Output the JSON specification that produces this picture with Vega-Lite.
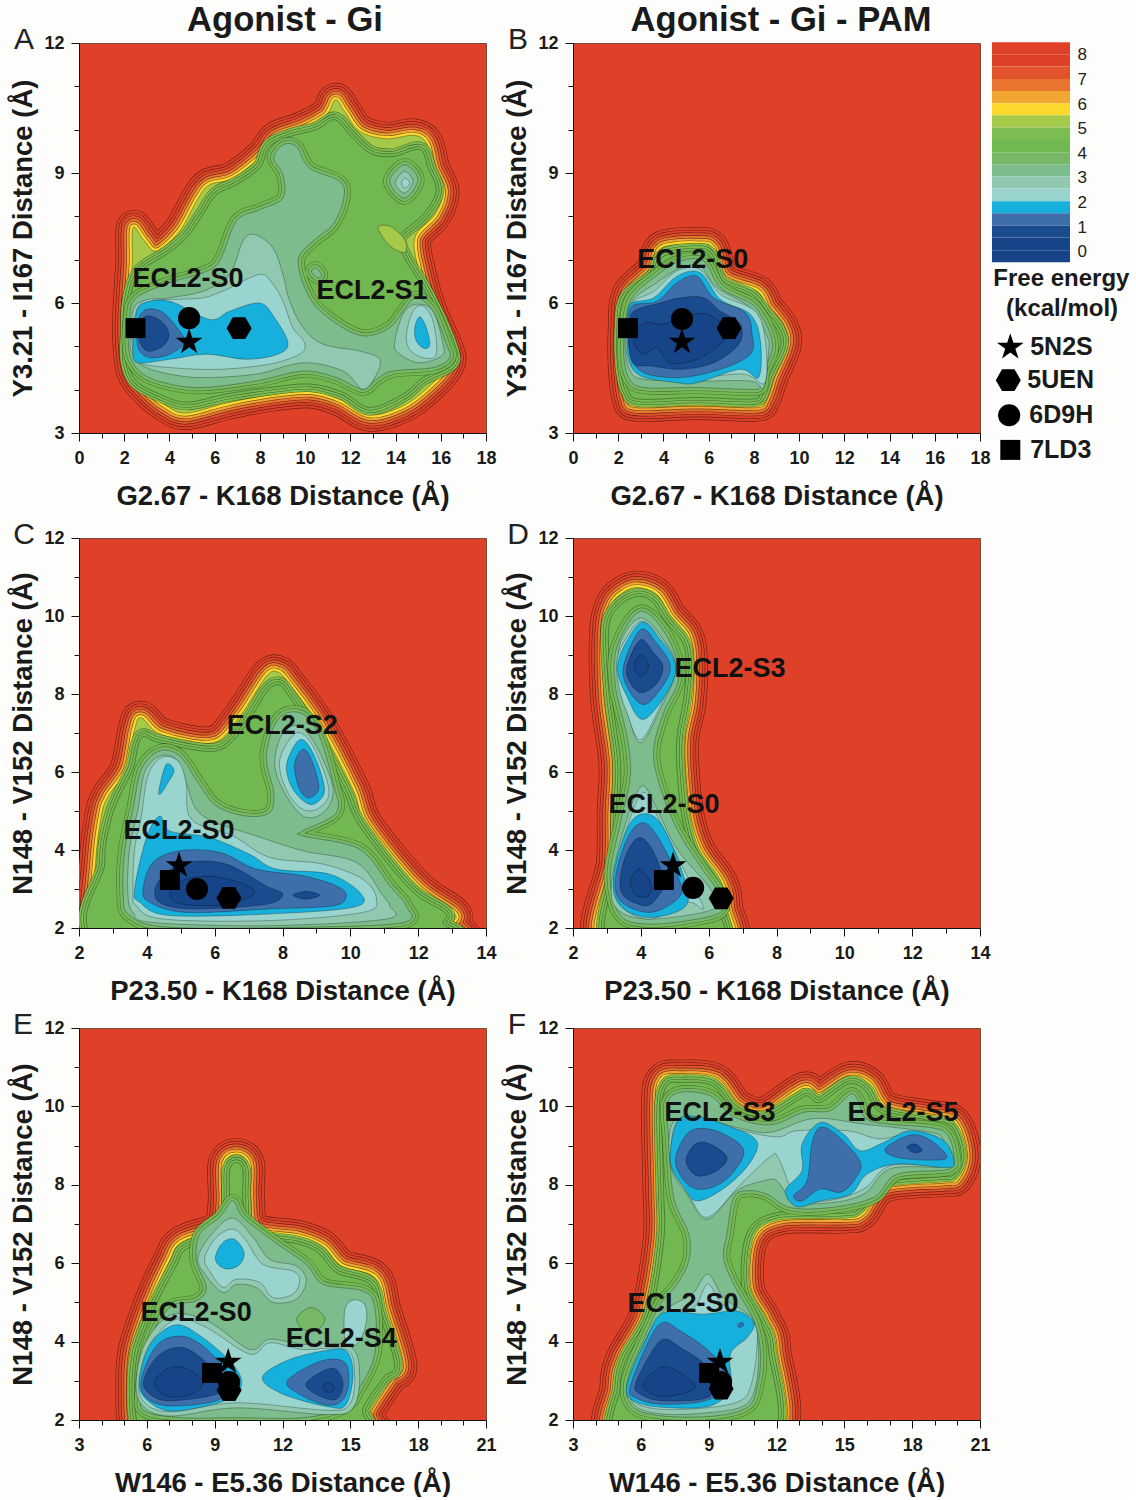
{"$schema":"https://vega.github.io/schema/vega-lite/v6.json","background":"#fdfdfb","padding":{"left":9,"top":2,"right":0,"bottom":0},
"config":{"font":"Liberation Sans","view":{"fill":"#de4128","stroke":"#7a4a3c"},
"axis":{"grid":false,"labelFont":"Liberation Sans","labelFontSize":18,"labelFontWeight":"bold","labelColor":"#1a1a1a","titleFont":"Liberation Sans","titleFontSize":27.5,"titleFontWeight":"bold","titleColor":"#1a1a1a","tickColor":"#111","domainColor":"#111","labelOverlap":false,"labelFlush":false},
"axisX":{"titlePadding":15,"labelPadding":8},"axisY":{"titlePadding":6,"labelPadding":7},
"line":{"interpolate":"cardinal-closed","strokeJoin":"round"},
"range":{"symbol":["M0,-1L.225,-.309L.951,-.309L.363,.118L.588,.809L0,.382L-.588,.809L-.363,.118L-.951,-.309L-.225,-.309Z","M-1,0L-.5,-.87L.5,-.87L1,0L.5,.87L-.5,.87Z","circle","square"]},
"style":{
"o6":{"strokeOpacity":0.5,"strokeWidth":33.7},"c6":{"strokeWidth":32.4},
"o5":{"strokeOpacity":0.5,"strokeWidth":28.3},"c5":{"strokeWidth":27},
"o4":{"strokeOpacity":0.5,"strokeWidth":22.9},"c4":{"strokeWidth":21.6},
"o3":{"strokeOpacity":0.5,"strokeWidth":17.5},"c3":{"strokeWidth":16.2},
"o2":{"strokeOpacity":0.5,"strokeWidth":12.1},"c2":{"strokeWidth":10.8},
"o1":{"strokeOpacity":0.5,"strokeWidth":6.7},"c1":{"strokeWidth":5.4},
"sf":{"strokeOpacity":0.45,"strokeWidth":0.7},
"o9":{"strokeOpacity":0.45,"strokeWidth":16.2},"c9":{"strokeWidth":15},
"o8":{"strokeOpacity":0.45,"strokeWidth":11.2},"c8":{"strokeWidth":10},
"o7":{"strokeOpacity":0.45,"strokeWidth":6.2},"c7":{"strokeWidth":5},
"tf":{"strokeOpacity":0.45,"strokeWidth":0.7},
"ua":{"strokeOpacity":0.35,"strokeWidth":13.2},"ub":{"strokeWidth":12},
"uc":{"strokeOpacity":0.35,"strokeWidth":7.2},"ud":{"strokeWidth":6},
"in":{"strokeOpacity":0.4,"strokeWidth":0.7}}},
"datasets":{
"AS":[{"x":2.21,"y":5.28},{"x":2.27,"y":6.2},{"x":2.36,"y":6.97},{"x":2.35,"y":7.58},{"x":2.46,"y":7.75},{"x":2.9,"y":7.43},{"x":3.45,"y":7.2},{"x":4.45,"y":7.66},{"x":5.27,"y":8.42},{"x":5.78,"y":8.73},{"x":6.81,"y":8.88},{"x":8.14,"y":9.42},{"x":8.73,"y":9.81},{"x":9.91,"y":10.04},{"x":10.94,"y":10.34},{"x":11.34,"y":10.69},{"x":11.75,"y":10.42},{"x":12.42,"y":9.96},{"x":13.6,"y":9.79},{"x":14.78,"y":9.87},{"x":15.37,"y":9.69},{"x":15.66,"y":9.11},{"x":16.08,"y":8.58},{"x":15.74,"y":8.04},{"x":14.85,"y":7.5},{"x":15.07,"y":6.66},{"x":15.59,"y":5.74},{"x":16.25,"y":4.97},{"x":16.33,"y":4.59},{"x":15.52,"y":4.09},{"x":14.34,"y":3.63},{"x":12.86,"y":3.42},{"x":11.53,"y":3.78},{"x":10.21,"y":3.96},{"x":8.44,"y":3.88},{"x":6.52,"y":3.69},{"x":4.75,"y":3.46},{"x":3.86,"y":3.63},{"x":3.05,"y":3.97},{"x":2.39,"y":4.43}],
"AT":[{"x":2.17,"y":5.28},{"x":2.24,"y":6.05},{"x":2.68,"y":6.7},{"x":3.86,"y":7.12},{"x":4.75,"y":7.5},{"x":5.48,"y":8.04},{"x":6.07,"y":8.5},{"x":6.96,"y":8.73},{"x":7.99,"y":9.11},{"x":8.43,"y":9.61},{"x":9.32,"y":9.84},{"x":10.5,"y":10.0},{"x":11.31,"y":10.23},{"x":11.97,"y":9.88},{"x":12.86,"y":9.46},{"x":13.89,"y":9.38},{"x":15.07,"y":9.54},{"x":15.44,"y":9.11},{"x":15.8,"y":8.58},{"x":15.21,"y":8.04},{"x":14.33,"y":7.65},{"x":14.11,"y":7.42},{"x":14.48,"y":6.96},{"x":15.21,"y":6.35},{"x":15.88,"y":5.66},{"x":16.47,"y":4.89},{"x":16.39,"y":4.59},{"x":15.21,"y":4.28},{"x":14.33,"y":3.9},{"x":12.86,"y":3.59},{"x":11.68,"y":3.94},{"x":10.2,"y":4.13},{"x":8.43,"y":4.05},{"x":6.52,"y":3.9},{"x":4.75,"y":3.71},{"x":3.57,"y":3.9},{"x":2.54,"y":4.2},{"x":2.17,"y":4.66}],
"AI":[{"l":9,"x":13.23,"y":7.73},{"l":9,"x":13.75,"y":7.77},{"l":9,"x":14.41,"y":7.46},{"l":9,"x":14.41,"y":7.17},{"l":9,"x":13.75,"y":7.32},
{"l":2,"x":2.24,"y":5.66},{"l":2,"x":2.54,"y":6.12},{"l":2,"x":4.01,"y":6.47},{"l":2,"x":5.48,"y":6.7},{"l":2,"x":6.22,"y":6.97},{"l":2,"x":6.96,"y":7.89},{"l":2,"x":7.99,"y":8.15},{"l":2,"x":9.02,"y":8.42},{"l":2,"x":9.02,"y":8.96},{"l":2,"x":8.61,"y":9.34},{"l":2,"x":9.02,"y":9.65},{"l":2,"x":9.61,"y":9.61},{"l":2,"x":10.2,"y":9.11},{"l":2,"x":11.53,"y":8.81},{"l":2,"x":11.71,"y":8.42},{"l":2,"x":11.23,"y":7.81},{"l":2,"x":10.35,"y":7.43},{"l":2,"x":9.69,"y":6.97},{"l":2,"x":10.2,"y":6.12},{"l":2,"x":11.23,"y":5.58},{"l":2,"x":12.56,"y":5.24},{"l":2,"x":13.74,"y":5.43},{"l":2,"x":14.33,"y":5.81},{"l":2,"x":14.92,"y":6.12},{"l":2,"x":15.66,"y":5.81},{"l":2,"x":16.25,"y":5.05},{"l":2,"x":16.39,"y":4.74},{"l":2,"x":15.66,"y":4.51},{"l":2,"x":13.89,"y":4.43},{"l":2,"x":13.15,"y":4.24},{"l":2,"x":12.53,"y":4.01},{"l":2,"x":11.38,"y":4.28},{"l":2,"x":9.91,"y":4.43},{"l":2,"x":7.84,"y":4.2},{"l":2,"x":5.48,"y":4.05},{"l":2,"x":4.01,"y":4.13},{"l":2,"x":2.83,"y":4.36},{"l":2,"x":2.24,"y":4.82},
{"l":2,"r":1,"x":10.28,"y":6.72},{"l":2,"r":1,"x":10.47,"y":6.81},{"l":2,"r":1,"x":10.72,"y":6.66},{"l":2,"r":1,"x":10.57,"y":6.58},
{"l":2,"r":3,"x":13.74,"y":8.81},{"l":2,"r":3,"x":14.4,"y":9.19},{"l":2,"r":3,"x":14.99,"y":8.85},{"l":2,"r":3,"x":14.4,"y":8.42},
{"l":3,"r":3,"x":13.99,"y":8.77},{"l":3,"r":3,"x":14.4,"y":9.04},{"l":3,"r":3,"x":14.77,"y":8.81},{"l":3,"r":3,"x":14.4,"y":8.54},
{"l":4,"r":3,"x":14.26,"y":8.77},{"l":4,"r":3,"x":14.43,"y":8.88},{"l":4,"r":3,"x":14.63,"y":8.77},{"l":4,"r":3,"x":14.43,"y":8.65},
{"l":3,"x":2.31,"y":5.28},{"l":3,"x":2.54,"y":5.97},{"l":3,"x":4.01,"y":6.12},{"l":3,"x":5.48,"y":6.27},{"l":3,"x":6.66,"y":6.66},{"l":3,"x":7.25,"y":7.43},{"l":3,"x":7.77,"y":7.58},{"l":3,"x":8.58,"y":7.27},{"l":3,"x":9.02,"y":6.66},{"l":3,"x":9.32,"y":6.04},{"l":3,"x":9.91,"y":5.43},{"l":3,"x":10.79,"y":5.05},{"l":3,"x":12.41,"y":4.89},{"l":3,"x":13.3,"y":4.7},{"l":3,"x":13.08,"y":4.28},{"l":3,"x":12.53,"y":4.01},{"l":3,"x":11.68,"y":4.43},{"l":3,"x":9.91,"y":4.62},{"l":3,"x":7.84,"y":4.36},{"l":3,"x":5.48,"y":4.28},{"l":3,"x":4.01,"y":4.36},{"l":3,"x":2.83,"y":4.55},{"l":3,"x":2.31,"y":4.89},
{"l":3,"r":2,"x":13.96,"y":5.08},{"l":3,"r":2,"x":14.33,"y":5.74},{"l":3,"r":2,"x":14.92,"y":5.97},{"l":3,"r":2,"x":15.66,"y":5.81},{"l":3,"r":2,"x":16.1,"y":5.05},{"l":3,"r":2,"x":16.03,"y":4.78},{"l":3,"r":2,"x":15.07,"y":4.62},{"l":3,"r":2,"x":14.18,"y":4.82},
{"l":4,"x":2.39,"y":5.51},{"l":4,"x":2.83,"y":6.04},{"l":4,"x":4.01,"y":6.08},{"l":4,"x":5.48,"y":6.12},{"l":4,"x":6.52,"y":6.31},{"l":4,"x":7.99,"y":6.66},{"l":4,"x":8.58,"y":6.43},{"l":4,"x":9.02,"y":6.04},{"l":4,"x":9.46,"y":5.43},{"l":4,"x":9.98,"y":5.08},{"l":4,"x":9.76,"y":4.82},{"l":4,"x":8.43,"y":4.59},{"l":4,"x":6.22,"y":4.47},{"l":4,"x":4.01,"y":4.51},{"l":4,"x":2.68,"y":4.62},{"l":4,"x":2.39,"y":4.89},
{"l":4,"r":2,"x":14.48,"y":5.28},{"l":4,"r":2,"x":14.77,"y":5.81},{"l":4,"r":2,"x":15.21,"y":5.93},{"l":4,"r":2,"x":15.66,"y":5.58},{"l":4,"r":2,"x":15.8,"y":4.82},{"l":4,"r":2,"x":15.21,"y":4.74},{"l":4,"r":2,"x":14.62,"y":4.93},
{"l":5,"x":2.46,"y":5.51},{"l":5,"x":2.76,"y":5.97},{"l":5,"x":4.01,"y":6.04},{"l":5,"x":5.78,"y":5.62},{"l":5,"x":6.66,"y":5.81},{"l":5,"x":7.99,"y":6.0},{"l":5,"x":8.65,"y":5.66},{"l":5,"x":9.24,"y":5.08},{"l":5,"x":8.8,"y":4.82},{"l":5,"x":7.4,"y":4.7},{"l":5,"x":5.63,"y":4.82},{"l":5,"x":4.01,"y":4.7},{"l":5,"x":2.61,"y":4.62},{"l":5,"x":2.39,"y":4.89},
{"l":5,"r":2,"x":14.85,"y":5.43},{"l":5,"r":2,"x":15.07,"y":5.68},{"l":5,"r":2,"x":15.36,"y":5.43},{"l":5,"r":2,"x":15.51,"y":5.05},{"l":5,"r":2,"x":15.29,"y":4.95},{"l":5,"r":2,"x":14.92,"y":5.12},
{"l":6,"x":2.61,"y":5.58},{"l":6,"x":2.98,"y":5.85},{"l":6,"x":3.72,"y":5.78},{"l":6,"x":4.45,"y":5.35},{"l":6,"x":4.67,"y":5.08},{"l":6,"x":4.01,"y":4.82},{"l":6,"x":3.13,"y":4.74},{"l":6,"x":2.61,"y":4.97},
{"l":7,"x":2.61,"y":5.51},{"l":7,"x":3.05,"y":5.7},{"l":7,"x":3.64,"y":5.58},{"l":7,"x":3.98,"y":5.28},{"l":7,"x":3.72,"y":5.01},{"l":7,"x":3.05,"y":4.89},{"l":7,"x":2.68,"y":5.12}],
"BS":[{"x":2.29,"y":5.43},{"x":2.46,"y":6.2},{"x":3.49,"y":6.74},{"x":3.79,"y":7.2},{"x":4.3,"y":7.33},{"x":5.48,"y":7.36},{"x":6.15,"y":7.27},{"x":6.66,"y":6.58},{"x":8.14,"y":6.27},{"x":8.58,"y":5.89},{"x":9.24,"y":5.43},{"x":9.35,"y":5.01},{"x":8.8,"y":4.32},{"x":8.43,"y":3.78},{"x":7.99,"y":3.65},{"x":5.48,"y":3.69},{"x":2.9,"y":3.65},{"x":2.46,"y":3.82},{"x":2.29,"y":4.51}],
"BT":[{"x":2.17,"y":5.43},{"x":2.39,"y":6.12},{"x":3.57,"y":6.62},{"x":4.01,"y":7.08},{"x":5.48,"y":7.2},{"x":6.07,"y":7.08},{"x":6.52,"y":6.47},{"x":7.84,"y":6.16},{"x":8.43,"y":5.78},{"x":9.02,"y":5.39},{"x":9.17,"y":5.01},{"x":8.58,"y":4.36},{"x":8.29,"y":3.9},{"x":7.84,"y":3.78},{"x":5.48,"y":3.82},{"x":2.98,"y":3.78},{"x":2.46,"y":3.97},{"x":2.21,"y":4.51}],
"BI":[{"l":2,"x":2.31,"y":5.43},{"l":2,"x":2.61,"y":6.12},{"l":2,"x":3.86,"y":6.7},{"l":2,"x":4.75,"y":6.97},{"l":2,"x":5.78,"y":6.97},{"l":2,"x":6.52,"y":6.35},{"l":2,"x":7.84,"y":6.0},{"l":2,"x":8.29,"y":5.74},{"l":2,"x":8.73,"y":5.28},{"l":2,"x":8.8,"y":4.89},{"l":2,"x":8.43,"y":4.43},{"l":2,"x":8.29,"y":4.05},{"l":2,"x":7.55,"y":4.01},{"l":2,"x":5.48,"y":4.05},{"l":2,"x":3.13,"y":4.05},{"l":2,"x":2.46,"y":4.28},{"l":2,"x":2.24,"y":4.82},
{"l":3,"x":2.36,"y":5.43},{"l":3,"x":2.61,"y":6.04},{"l":3,"x":3.71,"y":6.47},{"l":3,"x":4.75,"y":6.81},{"l":3,"x":5.63,"y":6.85},{"l":3,"x":6.37,"y":6.35},{"l":3,"x":7.84,"y":5.89},{"l":3,"x":8.58,"y":5.24},{"l":3,"x":8.65,"y":4.89},{"l":3,"x":8.43,"y":4.05},{"l":3,"x":7.84,"y":4.2},{"l":3,"x":5.48,"y":4.2},{"l":3,"x":3.13,"y":4.24},{"l":3,"x":2.54,"y":4.43},{"l":3,"x":2.31,"y":4.89},
{"l":4,"x":2.36,"y":5.43},{"l":4,"x":2.61,"y":6.0},{"l":4,"x":3.57,"y":6.27},{"l":4,"x":4.6,"y":6.74},{"l":4,"x":5.63,"y":6.77},{"l":4,"x":6.52,"y":6.2},{"l":4,"x":8.06,"y":5.81},{"l":4,"x":8.51,"y":5.12},{"l":4,"x":8.48,"y":4.16},{"l":4,"x":7.55,"y":4.36},{"l":4,"x":5.48,"y":4.28},{"l":4,"x":3.27,"y":4.32},{"l":4,"x":2.61,"y":4.51},{"l":4,"x":2.36,"y":4.89},
{"l":5,"x":2.39,"y":5.43},{"l":5,"x":2.54,"y":5.97},{"l":5,"x":3.57,"y":6.12},{"l":5,"x":4.6,"y":6.62},{"l":5,"x":5.63,"y":6.7},{"l":5,"x":6.52,"y":6.08},{"l":5,"x":7.84,"y":5.74},{"l":5,"x":8.29,"y":5.12},{"l":5,"x":8.21,"y":4.28},{"l":5,"x":7.4,"y":4.47},{"l":5,"x":5.48,"y":4.16},{"l":5,"x":4.6,"y":4.16},{"l":5,"x":2.98,"y":4.32},{"l":5,"x":2.46,"y":4.74},
{"l":6,"x":2.46,"y":5.43},{"l":6,"x":2.61,"y":5.93},{"l":6,"x":3.71,"y":6.04},{"l":6,"x":4.6,"y":6.47},{"l":6,"x":5.48,"y":6.62},{"l":6,"x":6.22,"y":6.12},{"l":6,"x":7.62,"y":5.78},{"l":6,"x":7.92,"y":5.28},{"l":6,"x":7.84,"y":4.82},{"l":6,"x":6.52,"y":4.47},{"l":6,"x":4.75,"y":4.28},{"l":6,"x":3.13,"y":4.39},{"l":6,"x":2.54,"y":4.82},
{"l":7,"x":2.5,"y":5.43},{"l":7,"x":2.68,"y":5.81},{"l":7,"x":3.86,"y":6.0},{"l":7,"x":4.75,"y":6.12},{"l":7,"x":5.78,"y":6.12},{"l":7,"x":6.52,"y":5.81},{"l":7,"x":7.4,"y":5.51},{"l":7,"x":7.33,"y":5.05},{"l":7,"x":6.22,"y":4.62},{"l":7,"x":4.75,"y":4.47},{"l":7,"x":3.42,"y":4.55},{"l":7,"x":2.68,"y":4.59},{"l":7,"x":2.46,"y":5.05},
{"l":8,"x":3.13,"y":5.54},{"l":8,"x":4.01,"y":5.51},{"l":8,"x":4.89,"y":5.7},{"l":8,"x":5.93,"y":5.74},{"l":8,"x":6.74,"y":5.43},{"l":8,"x":6.66,"y":5.12},{"l":8,"x":5.48,"y":4.7},{"l":8,"x":4.3,"y":4.62},{"l":8,"x":3.71,"y":4.97},{"l":8,"x":3.13,"y":4.82},{"l":8,"x":2.68,"y":5.12}],
"CS":[{"x":2.49,"y":3.68},{"x":2.66,"y":4.87},{"x":2.86,"y":5.38},{"x":3.4,"y":6.07},{"x":3.64,"y":7.09},{"x":3.84,"y":7.39},{"x":4.43,"y":6.96},{"x":5.95,"y":6.75},{"x":6.74,"y":7.43},{"x":7.52,"y":8.45},{"x":7.87,"y":8.56},{"x":8.21,"y":8.24},{"x":9.1,"y":7.17},{"x":10.08,"y":5.55},{"x":10.47,"y":4.66},{"x":11.95,"y":3.08},{"x":13.03,"y":2.4},{"x":13.01,"y":2.14},{"x":12.54,"y":1.55},{"x":3.69,"y":1.55},{"x":2.41,"y":1.55}],
"CT":[{"x":2.76,"y":3.68},{"x":2.95,"y":4.79},{"x":3.2,"y":5.38},{"x":3.59,"y":6.07},{"x":3.84,"y":6.88},{"x":4.38,"y":6.75},{"x":6.05,"y":6.54},{"x":6.89,"y":7.17},{"x":7.52,"y":8.03},{"x":7.87,"y":8.24},{"x":8.16,"y":7.98},{"x":8.9,"y":7.0},{"x":9.78,"y":5.55},{"x":10.27,"y":4.62},{"x":11.75,"y":3.0},{"x":12.78,"y":2.4},{"x":12.73,"y":2.14},{"x":12.54,"y":1.55},{"x":3.0,"y":1.55}],
"CI":[{"l":2,"x":3.3,"y":2.91},{"l":2,"x":3.35,"y":4.02},{"l":2,"x":3.59,"y":5.04},{"l":2,"x":3.84,"y":6.07},{"l":2,"x":4.38,"y":6.54},{"l":2,"x":4.97,"y":6.41},{"l":2,"x":5.51,"y":5.73},{"l":2,"x":6.05,"y":5.13},{"l":2,"x":6.93,"y":4.87},{"l":2,"x":7.62,"y":4.96},{"l":2,"x":7.74,"y":5.47},{"l":2,"x":7.52,"y":6.41},{"l":2,"x":7.87,"y":7.35},{"l":2,"x":8.51,"y":7.52},{"l":2,"x":9.05,"y":7.0},{"l":2,"x":9.49,"y":5.73},{"l":2,"x":9.59,"y":4.96},{"l":2,"x":8.6,"y":4.49},{"l":2,"x":8.6,"y":4.36},{"l":2,"x":10.27,"y":4.02},{"l":2,"x":11.16,"y":3.08},{"l":2,"x":11.65,"y":2.57},{"l":2,"x":11.55,"y":2.14},{"l":2,"x":8.6,"y":2.02},{"l":2,"x":4.67,"y":2.02},{"l":2,"x":3.49,"y":2.32},
{"l":3,"x":3.44,"y":2.91},{"l":3,"x":3.49,"y":4.02},{"l":3,"x":3.74,"y":5.04},{"l":3,"x":3.94,"y":6.0},{"l":3,"x":4.38,"y":6.41},{"l":3,"x":4.87,"y":6.32},{"l":3,"x":5.16,"y":5.73},{"l":3,"x":5.46,"y":5.04},{"l":3,"x":6.05,"y":4.7},{"l":3,"x":7.23,"y":4.36},{"l":3,"x":8.6,"y":3.98},{"l":3,"x":10.18,"y":3.68},{"l":3,"x":10.96,"y":2.83},{"l":3,"x":11.16,"y":2.57},{"l":3,"x":11.06,"y":2.23},{"l":3,"x":7.62,"y":2.06},{"l":3,"x":4.18,"y":2.14},{"l":3,"x":3.59,"y":2.4},
{"l":3,"r":2,"x":7.77,"y":6.24},{"l":3,"r":2,"x":8.01,"y":7.0},{"l":3,"r":2,"x":8.51,"y":7.17},{"l":3,"r":2,"x":9.05,"y":6.58},{"l":3,"r":2,"x":9.49,"y":5.55},{"l":3,"r":2,"x":9.2,"y":4.96},{"l":3,"r":2,"x":8.6,"y":4.87},{"l":3,"r":2,"x":8.01,"y":5.55},
{"l":4,"x":3.59,"y":2.91},{"l":4,"x":3.64,"y":4.02},{"l":4,"x":3.84,"y":4.87},{"l":4,"x":4.03,"y":5.9},{"l":4,"x":4.43,"y":6.37},{"l":4,"x":4.92,"y":6.28},{"l":4,"x":5.16,"y":5.73},{"l":4,"x":5.31,"y":4.79},{"l":4,"x":6.54,"y":4.36},{"l":4,"x":7.62,"y":3.81},{"l":4,"x":9.19,"y":3.64},{"l":4,"x":10.37,"y":3.25},{"l":4,"x":10.77,"y":2.74},{"l":4,"x":10.37,"y":2.4},{"l":4,"x":7.62,"y":2.19},{"l":4,"x":4.48,"y":2.23},{"l":4,"x":3.69,"y":2.57},
{"l":4,"r":2,"x":7.92,"y":6.32},{"l":4,"r":2,"x":8.41,"y":7.0},{"l":4,"r":2,"x":8.9,"y":6.66},{"l":4,"r":2,"x":9.37,"y":5.55},{"l":4,"r":2,"x":9.1,"y":5.09},{"l":4,"r":2,"x":8.6,"y":5.04},{"l":4,"r":2,"x":8.11,"y":5.55},
{"l":5,"x":3.64,"y":3.0},{"l":5,"x":3.99,"y":4.32},{"l":5,"x":4.38,"y":4.87},{"l":5,"x":4.67,"y":4.49},{"l":5,"x":5.85,"y":4.32},{"l":5,"x":7.03,"y":3.89},{"l":5,"x":7.82,"y":3.51},{"l":5,"x":9.39,"y":3.38},{"l":5,"x":10.32,"y":2.87},{"l":5,"x":10.08,"y":2.53},{"l":5,"x":7.62,"y":2.36},{"l":5,"x":4.67,"y":2.32},{"l":5,"x":3.79,"y":2.66},
{"l":5,"r":1,"x":4.36,"y":5.55},{"l":5,"r":1,"x":4.57,"y":6.19},{"l":5,"r":1,"x":4.8,"y":6.03},{"l":5,"r":1,"x":4.57,"y":5.65},{"l":5,"r":1,"x":4.39,"y":5.43},
{"l":5,"r":2,"x":8.13,"y":6.24},{"l":5,"r":2,"x":8.51,"y":6.83},{"l":5,"r":2,"x":8.9,"y":6.49},{"l":5,"r":2,"x":9.24,"y":5.55},{"l":5,"r":2,"x":8.9,"y":5.17},{"l":5,"r":2,"x":8.51,"y":5.34},{"l":5,"r":2,"x":8.21,"y":5.73},
{"l":6,"r":2,"x":8.36,"y":6.24},{"l":6,"r":2,"x":8.6,"y":6.58},{"l":6,"r":2,"x":8.85,"y":6.32},{"l":6,"r":2,"x":9.07,"y":5.6},{"l":6,"r":2,"x":8.8,"y":5.34},{"l":6,"r":2,"x":8.56,"y":5.47},{"l":6,"r":2,"x":8.41,"y":5.81},
{"l":6,"x":3.89,"y":3.0},{"l":6,"x":4.18,"y":3.68},{"l":6,"x":4.97,"y":3.98},{"l":6,"x":6.15,"y":3.94},{"l":6,"x":7.23,"y":3.51},{"l":6,"x":8.6,"y":3.34},{"l":6,"x":9.59,"y":3.08},{"l":6,"x":9.88,"y":2.83},{"l":6,"x":9.49,"y":2.57},{"l":6,"x":7.62,"y":2.49},{"l":6,"x":5.16,"y":2.4},{"l":6,"x":4.08,"y":2.66},
{"l":7,"x":4.23,"y":2.91},{"l":7,"x":4.48,"y":3.34},{"l":7,"x":5.16,"y":3.68},{"l":7,"x":6.34,"y":3.64},{"l":7,"x":7.52,"y":3.08},{"l":7,"x":8.01,"y":2.87},{"l":7,"x":7.52,"y":2.61},{"l":7,"x":5.46,"y":2.49},{"l":7,"x":4.48,"y":2.61},
{"l":7,"r":1,"x":8.31,"y":2.84},{"l":7,"r":1,"x":8.7,"y":2.94},{"l":7,"r":1,"x":9.1,"y":2.84},{"l":7,"r":1,"x":8.7,"y":2.74},
{"l":8,"x":4.67,"y":2.87},{"l":8,"x":5.16,"y":3.25},{"l":8,"x":6.15,"y":3.3},{"l":8,"x":7.18,"y":2.95},{"l":8,"x":6.44,"y":2.61},{"l":8,"x":5.06,"y":2.61}],
"DS":[{"x":2.98,"y":9.65},{"x":3.15,"y":10.29},{"x":3.44,"y":10.58},{"x":3.89,"y":10.73},{"x":4.48,"y":10.54},{"x":4.87,"y":9.99},{"x":5.36,"y":9.48},{"x":5.48,"y":8.79},{"x":5.43,"y":7.77},{"x":5.23,"y":6.92},{"x":5.23,"y":6.07},{"x":5.38,"y":4.87},{"x":5.71,"y":3.98},{"x":6.36,"y":3.17},{"x":6.51,"y":2.53},{"x":6.44,"y":1.55},{"x":2.9,"y":1.55},{"x":3.18,"y":3.68},{"x":3.2,"y":4.96},{"x":3.25,"y":6.24},{"x":3.0,"y":7.94}],
"DT":[{"x":3.05,"y":9.65},{"x":3.35,"y":10.24},{"x":3.89,"y":10.5},{"x":4.33,"y":10.37},{"x":4.72,"y":9.86},{"x":5.21,"y":9.35},{"x":5.34,"y":8.79},{"x":5.26,"y":7.86},{"x":5.07,"y":6.92},{"x":5.07,"y":6.07},{"x":5.21,"y":4.87},{"x":5.51,"y":3.94},{"x":6.15,"y":3.13},{"x":6.29,"y":2.53},{"x":6.25,"y":1.55},{"x":3.1,"y":1.55},{"x":3.3,"y":3.68},{"x":3.35,"y":4.96},{"x":3.4,"y":6.24},{"x":3.15,"y":7.94}],
"DI":[{"l":2,"x":3.3,"y":9.22},{"l":2,"x":3.99,"y":10.12},{"l":2,"x":4.77,"y":9.48},{"l":2,"x":5.12,"y":8.45},{"l":2,"x":4.67,"y":7.52},{"l":2,"x":4.38,"y":6.58},{"l":2,"x":4.53,"y":5.73},{"l":2,"x":5.07,"y":4.53},{"l":2,"x":5.75,"y":3.59},{"l":2,"x":6.29,"y":2.91},{"l":2,"x":6.39,"y":2.44},{"l":2,"x":5.66,"y":2.23},{"l":2,"x":4.28,"y":2.1},{"l":2,"x":3.4,"y":2.32},{"l":2,"x":3.1,"y":3.34},{"l":2,"x":3.4,"y":4.7},{"l":2,"x":3.69,"y":5.9},{"l":2,"x":3.59,"y":6.92},{"l":2,"x":3.25,"y":8.2},
{"l":3,"x":3.4,"y":9.31},{"l":3,"x":3.99,"y":9.95},{"l":3,"x":4.67,"y":9.39},{"l":3,"x":5.02,"y":8.62},{"l":3,"x":4.53,"y":7.52},{"l":3,"x":3.99,"y":6.75},{"l":3,"x":3.64,"y":7.43},{"l":3,"x":3.4,"y":8.45},
{"l":3,"r":2,"x":4.03,"y":5.64},{"l":3,"r":2,"x":4.43,"y":5.13},{"l":3,"r":2,"x":5.07,"y":4.02},{"l":3,"r":2,"x":6.05,"y":3.0},{"l":3,"r":2,"x":6.15,"y":2.49},{"l":3,"r":2,"x":4.28,"y":2.23},{"l":3,"r":2,"x":3.3,"y":2.49},{"l":3,"r":2,"x":3.15,"y":3.25},{"l":3,"r":2,"x":3.59,"y":4.79},
{"l":4,"x":3.35,"y":9.05},{"l":4,"x":3.99,"y":9.86},{"l":4,"x":4.61,"y":9.39},{"l":4,"x":5.02,"y":8.71},{"l":4,"x":4.57,"y":7.69},{"l":4,"x":3.99,"y":6.83},{"l":4,"x":3.59,"y":7.52},{"l":4,"x":3.33,"y":8.28},
{"l":4,"r":2,"x":4.08,"y":5.47},{"l":4,"r":2,"x":4.48,"y":4.87},{"l":4,"r":2,"x":5.36,"y":3.34},{"l":4,"r":2,"x":5.85,"y":2.5},{"l":4,"r":2,"x":5.36,"y":2.66},{"l":4,"r":2,"x":4.28,"y":2.23},{"l":4,"r":2,"x":3.4,"y":2.57},{"l":4,"r":2,"x":3.2,"y":3.25},{"l":4,"r":2,"x":3.64,"y":4.7},
{"l":5,"x":3.32,"y":8.79},{"l":5,"x":3.99,"y":9.83},{"l":5,"x":4.57,"y":9.39},{"l":5,"x":5.02,"y":8.75},{"l":5,"x":4.82,"y":8.11},{"l":5,"x":4.08,"y":7.35},{"l":5,"x":3.59,"y":7.94},
{"l":5,"r":2,"x":4.03,"y":4.92},{"l":5,"r":2,"x":4.57,"y":4.7},{"l":5,"r":2,"x":5.16,"y":3.59},{"l":5,"r":2,"x":5.36,"y":2.61},{"l":5,"r":2,"x":4.28,"y":2.27},{"l":5,"r":2,"x":3.4,"y":2.57},{"l":5,"r":2,"x":3.2,"y":3.34},{"l":5,"r":2,"x":3.59,"y":4.53},
{"l":6,"x":3.49,"y":8.71},{"l":6,"x":3.99,"y":9.65},{"l":6,"x":4.46,"y":9.31},{"l":6,"x":4.87,"y":8.71},{"l":6,"x":4.57,"y":8.11},{"l":6,"x":4.08,"y":7.73},{"l":6,"x":3.64,"y":8.11},
{"l":6,"r":2,"x":4.03,"y":4.7},{"l":6,"r":2,"x":4.48,"y":4.36},{"l":6,"r":2,"x":5.16,"y":3.17},{"l":6,"r":2,"x":5.07,"y":2.74},{"l":6,"r":2,"x":4.28,"y":2.4},{"l":6,"r":2,"x":3.44,"y":2.66},{"l":6,"r":2,"x":3.25,"y":3.25},{"l":6,"r":2,"x":3.59,"y":4.28},
{"l":7,"x":3.59,"y":8.71},{"l":7,"x":3.99,"y":9.39},{"l":7,"x":4.38,"y":9.05},{"l":7,"x":4.65,"y":8.71},{"l":7,"x":4.48,"y":8.28},{"l":7,"x":4.03,"y":8.03},{"l":7,"x":3.69,"y":8.28},
{"l":7,"r":2,"x":3.99,"y":4.32},{"l":7,"r":2,"x":4.38,"y":3.94},{"l":7,"r":2,"x":4.67,"y":3.17},{"l":7,"r":2,"x":4.48,"y":2.78},{"l":7,"r":2,"x":4.13,"y":2.57},{"l":7,"r":2,"x":3.49,"y":2.83},{"l":7,"r":2,"x":3.4,"y":3.34},{"l":7,"r":2,"x":3.64,"y":4.02},
{"l":8,"x":3.79,"y":8.71},{"l":8,"x":4.0,"y":9.0},{"l":8,"x":4.23,"y":8.71},{"l":8,"x":4.0,"y":8.45},
{"l":8,"r":2,"x":3.69,"y":3.17},{"l":8,"r":2,"x":3.94,"y":3.51},{"l":8,"r":2,"x":4.28,"y":3.17},{"l":8,"r":2,"x":4.23,"y":2.83},{"l":8,"r":2,"x":3.89,"y":2.83}],
"ES":[{"x":5.36,"y":2.66},{"x":5.46,"y":3.76},{"x":6.2,"y":5.04},{"x":7.01,"y":6.06},{"x":7.53,"y":6.53},{"x":9.15,"y":6.91},{"x":9.44,"y":7.55},{"x":9.44,"y":8.53},{"x":9.96,"y":8.76},{"x":10.47,"y":8.53},{"x":10.47,"y":7.68},{"x":10.77,"y":6.87},{"x":12.69,"y":6.67},{"x":13.79,"y":6.42},{"x":14.6,"y":5.93},{"x":16.08,"y":5.63},{"x":16.52,"y":4.78},{"x":17.21,"y":3.42},{"x":16.74,"y":3.08},{"x":15.78,"y":2.23},{"x":15.27,"y":1.46},{"x":6.13,"y":1.46},{"x":5.46,"y":1.89}],
"ET":[{"x":5.46,"y":2.66},{"x":5.61,"y":3.76},{"x":6.42,"y":4.95},{"x":7.3,"y":5.93},{"x":7.75,"y":6.36},{"x":9.37,"y":6.74},{"x":9.64,"y":7.55},{"x":9.66,"y":8.36},{"x":9.96,"y":8.57},{"x":10.25,"y":8.36},{"x":10.25,"y":7.59},{"x":10.55,"y":6.74},{"x":12.61,"y":6.5},{"x":13.57,"y":6.27},{"x":14.38,"y":5.76},{"x":15.86,"y":5.46},{"x":16.27,"y":4.7},{"x":16.96,"y":3.42},{"x":16.45,"y":3.08},{"x":15.56,"y":2.31},{"x":15.12,"y":1.46},{"x":6.27,"y":1.46},{"x":5.61,"y":1.89}],
"EI":[{"l":2,"x":5.76,"y":2.74},{"l":2,"x":6.13,"y":4.02},{"l":2,"x":7.01,"y":4.87},{"l":2,"x":8.19,"y":5.04},{"l":2,"x":8.63,"y":5.38},{"l":2,"x":8.19,"y":6.06},{"l":2,"x":8.34,"y":6.74},{"l":2,"x":9.22,"y":7.17},{"l":2,"x":9.81,"y":7.59},{"l":2,"x":10.25,"y":7.17},{"l":2,"x":11.58,"y":6.57},{"l":2,"x":13.05,"y":5.97},{"l":2,"x":13.79,"y":5.46},{"l":2,"x":15.56,"y":5.29},{"l":2,"x":16.08,"y":4.87},{"l":2,"x":16.08,"y":3.68},{"l":2,"x":15.41,"y":2.83},{"l":2,"x":14.68,"y":2.31},{"l":2,"x":12.91,"y":2.06},{"l":2,"x":9.96,"y":2.06},{"l":2,"x":7.53,"y":2.06},{"l":2,"x":5.91,"y":2.23},
{"l":1,"x":12.64,"y":4.61},{"l":1,"x":13.28,"y":4.87},{"l":1,"x":13.87,"y":4.61},{"l":1,"x":13.57,"y":4.31},{"l":1,"x":12.91,"y":4.31},
{"l":3,"x":8.26,"y":6.14},{"l":3,"x":8.93,"y":6.78},{"l":3,"x":9.81,"y":7.15},{"l":3,"x":10.7,"y":6.66},{"l":3,"x":11.43,"y":6.1},{"l":3,"x":12.61,"y":5.93},{"l":3,"x":13.05,"y":5.55},{"l":3,"x":12.61,"y":5.08},{"l":3,"x":11.58,"y":5.0},{"l":3,"x":10.84,"y":5.38},{"l":3,"x":9.96,"y":5.46},{"l":3,"x":9.37,"y":5.25},{"l":3,"x":8.63,"y":5.68},
{"l":4,"x":8.56,"y":6.14},{"l":4,"x":9.07,"y":6.66},{"l":4,"x":9.81,"y":6.87},{"l":4,"x":10.4,"y":6.57},{"l":4,"x":11.14,"y":5.97},{"l":4,"x":12.46,"y":5.8},{"l":4,"x":12.76,"y":5.55},{"l":4,"x":12.46,"y":5.21},{"l":4,"x":11.58,"y":5.12},{"l":4,"x":10.99,"y":5.51},{"l":4,"x":9.96,"y":5.59},{"l":4,"x":9.37,"y":5.38},{"l":4,"x":8.78,"y":5.8},
{"l":5,"x":9.04,"y":6.19},{"l":5,"x":9.37,"y":6.53},{"l":5,"x":9.88,"y":6.61},{"l":5,"x":10.3,"y":6.27},{"l":5,"x":10.11,"y":5.97},{"l":5,"x":9.59,"y":5.85},{"l":5,"x":9.15,"y":5.97},
{"l":4,"r":3,"x":14.75,"y":4.78},{"l":4,"r":3,"x":15.12,"y":5.06},{"l":4,"r":3,"x":15.63,"y":4.95},{"l":4,"r":3,"x":15.71,"y":4.53},{"l":4,"r":3,"x":15.41,"y":4.02},{"l":4,"r":3,"x":14.82,"y":3.89},
{"l":3,"r":2,"x":5.54,"y":3.08},{"l":3,"r":2,"x":5.98,"y":4.02},{"l":3,"r":2,"x":7.15,"y":4.7},{"l":3,"r":2,"x":8.78,"y":4.49},{"l":3,"r":2,"x":10.55,"y":3.8},{"l":3,"r":2,"x":11.43,"y":4.06},{"l":3,"r":2,"x":12.91,"y":3.93},{"l":3,"r":2,"x":14.97,"y":3.89},{"l":3,"r":2,"x":15.41,"y":3.17},{"l":3,"r":2,"x":15.12,"y":2.31},{"l":3,"r":2,"x":13.94,"y":2.14},{"l":3,"r":2,"x":9.96,"y":2.31},{"l":3,"r":2,"x":7.01,"y":2.1},{"l":3,"r":2,"x":5.76,"y":2.4},
{"l":4,"r":2,"x":5.68,"y":3.08},{"l":4,"r":2,"x":6.13,"y":3.93},{"l":4,"r":2,"x":7.3,"y":4.57},{"l":4,"r":2,"x":8.63,"y":4.36},{"l":4,"r":2,"x":10.55,"y":3.68},{"l":4,"r":2,"x":11.43,"y":3.97},{"l":4,"r":2,"x":12.91,"y":3.8},{"l":4,"r":2,"x":14.82,"y":3.8},{"l":4,"r":2,"x":15.19,"y":3.17},{"l":4,"r":2,"x":14.97,"y":2.4},{"l":4,"r":2,"x":13.94,"y":2.25},{"l":4,"r":2,"x":9.96,"y":2.44},{"l":4,"r":2,"x":7.01,"y":2.21},{"l":4,"r":2,"x":5.83,"y":2.49},
{"l":5,"r":2,"x":5.68,"y":3.08},{"l":5,"r":2,"x":6.2,"y":3.97},{"l":5,"r":2,"x":7.3,"y":4.43},{"l":5,"r":2,"x":8.48,"y":4.1},{"l":5,"r":2,"x":9.66,"y":3.51},{"l":5,"r":2,"x":10.18,"y":3.04},{"l":5,"r":2,"x":9.96,"y":2.66},{"l":5,"r":2,"x":8.93,"y":2.4},{"l":5,"r":2,"x":7.01,"y":2.23},{"l":5,"r":2,"x":5.9,"y":2.57},
{"l":5,"r":3,"x":11.11,"y":3.08},{"l":5,"r":3,"x":12.17,"y":3.51},{"l":5,"r":3,"x":13.79,"y":3.76},{"l":5,"r":3,"x":14.82,"y":3.76},{"l":5,"r":3,"x":15.12,"y":3.17},{"l":5,"r":3,"x":14.82,"y":2.4},{"l":5,"r":3,"x":14.09,"y":2.33},{"l":5,"r":3,"x":12.02,"y":2.66},
{"l":6,"x":5.76,"y":3.04},{"l":6,"x":6.42,"y":3.89},{"l":6,"x":7.45,"y":4.14},{"l":6,"x":8.48,"y":3.89},{"l":6,"x":9.52,"y":3.25},{"l":6,"x":9.81,"y":2.91},{"l":6,"x":9.07,"y":2.49},{"l":6,"x":7.01,"y":2.36},{"l":6,"x":5.98,"y":2.57},
{"l":6,"r":3,"x":12.2,"y":2.98},{"l":6,"r":3,"x":13.05,"y":3.34},{"l":6,"r":3,"x":14.09,"y":3.55},{"l":6,"r":3,"x":14.82,"y":3.42},{"l":6,"r":3,"x":14.9,"y":2.83},{"l":6,"r":3,"x":14.53,"y":2.44},{"l":6,"r":3,"x":13.79,"y":2.4},{"l":6,"r":3,"x":12.61,"y":2.7},
{"l":7,"x":5.86,"y":3.0},{"l":7,"x":6.42,"y":3.59},{"l":7,"x":7.3,"y":3.85},{"l":7,"x":8.19,"y":3.68},{"l":7,"x":9.37,"y":3.0},{"l":7,"x":9.07,"y":2.66},{"l":7,"x":7.01,"y":2.49},{"l":7,"x":6.13,"y":2.66},
{"l":7,"r":3,"x":13.03,"y":2.91},{"l":7,"r":3,"x":13.79,"y":3.25},{"l":7,"r":3,"x":14.38,"y":3.29},{"l":7,"r":3,"x":14.68,"y":2.91},{"l":7,"r":3,"x":14.38,"y":2.53},{"l":7,"r":3,"x":13.64,"y":2.61},
{"l":8,"x":6.35,"y":2.95},{"l":8,"x":6.86,"y":3.29},{"l":8,"x":7.6,"y":3.34},{"l":8,"x":8.48,"y":3.0},{"l":8,"x":8.04,"y":2.66},{"l":8,"x":6.86,"y":2.61},
{"l":8,"r":3,"x":13.76,"y":2.84},{"l":8,"r":3,"x":14.01,"y":2.95},{"l":8,"r":3,"x":14.31,"y":2.83},{"l":8,"r":3,"x":14.06,"y":2.7}],
"FS":[{"x":4.92,"y":2.83},{"x":5.21,"y":3.59},{"x":6.24,"y":4.7},{"x":6.83,"y":6.57},{"x":6.83,"y":7.85},{"x":6.76,"y":9.97},{"x":6.94,"y":10.67},{"x":7.75,"y":10.76},{"x":9.3,"y":10.67},{"x":10.25,"y":10.02},{"x":11.43,"y":9.82},{"x":12.83,"y":10.33},{"x":13.35,"y":10.46},{"x":13.94,"y":10.28},{"x":15.19,"y":10.71},{"x":16.08,"y":10.57},{"x":16.81,"y":9.96},{"x":18.66,"y":9.74},{"x":19.84,"y":9.59},{"x":20.31,"y":8.78},{"x":19.98,"y":8.19},{"x":19.39,"y":8.12},{"x":16.74,"y":7.97},{"x":15.78,"y":7.29},{"x":14.97,"y":7.19},{"x":12.17,"y":7.15},{"x":10.92,"y":6.66},{"x":10.73,"y":5.38},{"x":11.46,"y":4.57},{"x":11.9,"y":3.8},{"x":11.8,"y":1.46},{"x":5.09,"y":1.46}],
"FT":[{"x":5.09,"y":2.83},{"x":5.39,"y":3.59},{"x":6.42,"y":4.66},{"x":7.01,"y":6.57},{"x":7.01,"y":7.85},{"x":6.94,"y":9.89},{"x":7.16,"y":10.53},{"x":7.75,"y":10.61},{"x":9.15,"y":10.53},{"x":10.11,"y":9.89},{"x":11.43,"y":9.68},{"x":12.91,"y":10.14},{"x":13.35,"y":10.27},{"x":13.94,"y":10.1},{"x":15.19,"y":10.57},{"x":15.93,"y":10.4},{"x":16.59,"y":9.85},{"x":18.58,"y":9.59},{"x":19.62,"y":9.46},{"x":20.06,"y":8.78},{"x":19.76,"y":8.31},{"x":19.25,"y":8.27},{"x":16.59,"y":8.1},{"x":15.63,"y":7.46},{"x":14.9,"y":7.34},{"x":12.02,"y":7.29},{"x":10.7,"y":6.78},{"x":10.47,"y":5.38},{"x":11.21,"y":4.53},{"x":11.65,"y":3.76},{"x":11.58,"y":1.46},{"x":5.24,"y":1.46}],
"FI":[{"l":2,"x":5.39,"y":2.95},{"l":2,"x":6.13,"y":4.06},{"l":2,"x":6.86,"y":4.95},{"l":2,"x":7.6,"y":5.46},{"l":2,"x":8.12,"y":6.06},{"l":2,"x":8.12,"y":6.74},{"l":2,"x":7.45,"y":7.68},{"l":2,"x":7.23,"y":9.21},{"l":2,"x":7.16,"y":10.06},{"l":2,"x":7.75,"y":10.36},{"l":2,"x":9.07,"y":10.27},{"l":2,"x":10.11,"y":9.74},{"l":2,"x":11.73,"y":9.53},{"l":2,"x":13.2,"y":9.85},{"l":2,"x":14.38,"y":9.89},{"l":2,"x":15.27,"y":10.31},{"l":2,"x":15.63,"y":10.14},{"l":2,"x":16.15,"y":9.63},{"l":2,"x":18.8,"y":9.46},{"l":2,"x":19.54,"y":9.29},{"l":2,"x":19.84,"y":8.78},{"l":2,"x":19.62,"y":8.4},{"l":2,"x":17.33,"y":8.27},{"l":2,"x":16.3,"y":7.68},{"l":2,"x":14.38,"y":7.42},{"l":2,"x":12.61,"y":7.42},{"l":2,"x":11.58,"y":7.76},{"l":2,"x":10.77,"y":7.85},{"l":2,"x":10.11,"y":7.68},{"l":2,"x":9.81,"y":6.74},{"l":2,"x":9.66,"y":6.14},{"l":2,"x":10.11,"y":5.46},{"l":2,"x":11.0,"y":4.53},{"l":2,"x":11.29,"y":3.68},{"l":2,"x":11.14,"y":2.83},{"l":2,"x":10.7,"y":2.32},{"l":2,"x":9.22,"y":2.1},{"l":2,"x":7.01,"y":2.1},{"l":2,"x":5.68,"y":2.32},
{"l":3,"x":7.33,"y":8.46},{"l":3,"x":7.38,"y":9.55},{"l":3,"x":8.48,"y":9.72},{"l":3,"x":10.25,"y":9.46},{"l":3,"x":11.73,"y":9.34},{"l":3,"x":13.64,"y":9.69},{"l":3,"x":15.85,"y":9.55},{"l":3,"x":18.8,"y":9.34},{"l":3,"x":19.39,"y":9.13},{"l":3,"x":19.61,"y":8.7},{"l":3,"x":19.39,"y":8.46},{"l":3,"x":17.03,"y":8.41},{"l":3,"x":15.85,"y":7.76},{"l":3,"x":14.21,"y":7.53},{"l":3,"x":12.76,"y":7.59},{"l":3,"x":12.02,"y":8.1},{"l":3,"x":11.43,"y":8.1},{"l":3,"x":10.25,"y":7.85},{"l":3,"x":8.93,"y":7.12},{"l":3,"x":8.04,"y":7.76},
{"l":4,"x":7.38,"y":8.53},{"l":4,"x":7.53,"y":9.55},{"l":4,"x":8.48,"y":9.68},{"l":4,"x":10.25,"y":9.41},{"l":4,"x":12.02,"y":9.22},{"l":4,"x":12.91,"y":9.38},{"l":4,"x":15.12,"y":9.38},{"l":4,"x":16.59,"y":9.17},{"l":4,"x":18.06,"y":9.34},{"l":4,"x":19.24,"y":9.17},{"l":4,"x":19.53,"y":8.7},{"l":4,"x":19.24,"y":8.49},{"l":4,"x":17.03,"y":8.49},{"l":4,"x":15.85,"y":7.89},{"l":4,"x":14.21,"y":7.59},{"l":4,"x":12.9,"y":7.68},{"l":4,"x":12.1,"y":8.67},{"l":4,"x":11.73,"y":8.72},{"l":4,"x":10.4,"y":8.0},{"l":4,"x":8.93,"y":7.17},{"l":4,"x":8.04,"y":7.85},
{"l":5,"x":7.3,"y":8.61},{"l":5,"x":7.65,"y":9.65},{"l":5,"x":8.63,"y":9.72},{"l":5,"x":9.96,"y":9.48},{"l":5,"x":10.96,"y":9.22},{"l":5,"x":11.14,"y":8.91},{"l":5,"x":10.55,"y":8.36},{"l":5,"x":9.52,"y":7.85},{"l":5,"x":8.48,"y":7.59},{"l":5,"x":7.9,"y":7.93},
{"l":5,"r":2,"x":12.39,"y":7.85},{"l":5,"r":2,"x":13.13,"y":8.36},{"l":5,"r":2,"x":13.13,"y":9.04},{"l":5,"r":2,"x":13.94,"y":9.59},{"l":5,"r":2,"x":14.97,"y":9.29},{"l":5,"r":2,"x":15.71,"y":8.87},{"l":5,"r":2,"x":16.74,"y":9.08},{"l":5,"r":2,"x":17.92,"y":9.38},{"l":5,"r":2,"x":19.39,"y":9.13},{"l":5,"r":2,"x":19.84,"y":8.61},{"l":5,"r":2,"x":19.54,"y":8.44},{"l":5,"r":2,"x":17.33,"y":8.53},{"l":5,"r":2,"x":16.0,"y":8.27},{"l":5,"r":2,"x":15.27,"y":7.76},{"l":5,"r":2,"x":13.94,"y":7.59},{"l":5,"r":2,"x":12.91,"y":7.44},
{"l":6,"x":7.53,"y":8.61},{"l":6,"x":8.0,"y":9.27},{"l":6,"x":8.72,"y":9.44},{"l":6,"x":9.76,"y":9.27},{"l":6,"x":10.56,"y":8.85},{"l":6,"x":9.88,"y":8.19},{"l":6,"x":8.87,"y":7.89},{"l":6,"x":8.05,"y":8.02},
{"l":6,"r":2,"x":12.76,"y":7.72},{"l":6,"r":2,"x":13.35,"y":8.1},{"l":6,"r":2,"x":13.57,"y":9.05},{"l":6,"r":2,"x":13.94,"y":9.47},{"l":6,"r":2,"x":14.68,"y":9.26},{"l":6,"r":2,"x":15.71,"y":8.58},{"l":6,"r":2,"x":15.41,"y":8.1},{"l":6,"r":2,"x":14.82,"y":7.81},{"l":6,"r":2,"x":13.94,"y":7.89},{"l":6,"r":2,"x":13.13,"y":7.59},
{"l":6,"r":3,"x":16.81,"y":8.92},{"l":6,"r":3,"x":17.92,"y":9.27},{"l":6,"r":3,"x":18.8,"y":9.14},{"l":6,"r":3,"x":19.54,"y":8.71},{"l":6,"r":3,"x":18.8,"y":8.63},{"l":6,"r":3,"x":17.33,"y":8.7},
{"l":7,"x":8.0,"y":8.61},{"l":7,"x":8.41,"y":9.04},{"l":7,"x":9.07,"y":9.04},{"l":7,"x":9.81,"y":8.7},{"l":7,"x":9.37,"y":8.36},{"l":7,"x":8.48,"y":8.23},
{"l":7,"r":3,"x":17.77,"y":8.97},{"l":7,"r":3,"x":18.14,"y":9.04},{"l":7,"r":3,"x":18.44,"y":8.88},{"l":7,"r":3,"x":18.07,"y":8.82},
{"l":3,"r":4,"x":5.54,"y":2.91},{"l":3,"r":4,"x":6.2,"y":4.02},{"l":3,"r":4,"x":7.01,"y":4.78},{"l":3,"r":4,"x":8.26,"y":5.21},{"l":3,"r":4,"x":8.96,"y":5.72},{"l":3,"r":4,"x":9.66,"y":5.12},{"l":3,"r":4,"x":10.55,"y":4.78},{"l":3,"r":4,"x":11.02,"y":4.48},{"l":3,"r":4,"x":11.21,"y":3.68},{"l":3,"r":4,"x":11.06,"y":2.83},{"l":3,"r":4,"x":10.55,"y":2.36},{"l":3,"r":4,"x":9.07,"y":2.19},{"l":3,"r":4,"x":7.01,"y":2.15},{"l":3,"r":4,"x":5.76,"y":2.36},
{"l":4,"r":4,"x":5.46,"y":2.91},{"l":4,"r":4,"x":6.27,"y":4.1},{"l":4,"r":4,"x":7.01,"y":4.7},{"l":4,"r":4,"x":8.34,"y":4.87},{"l":4,"r":4,"x":8.96,"y":5.47},{"l":4,"r":4,"x":9.6,"y":4.96},{"l":4,"r":4,"x":11.0,"y":4.48},{"l":4,"r":4,"x":11.11,"y":3.68},{"l":4,"r":4,"x":10.84,"y":2.83},{"l":4,"r":4,"x":10.4,"y":2.49},{"l":4,"r":4,"x":9.07,"y":2.32},{"l":4,"r":4,"x":7.01,"y":2.27},{"l":4,"r":4,"x":5.76,"y":2.44},
{"l":5,"r":4,"x":5.39,"y":2.91},{"l":5,"r":4,"x":6.27,"y":4.1},{"l":5,"r":4,"x":7.01,"y":4.74},{"l":5,"r":4,"x":8.78,"y":4.7},{"l":5,"r":4,"x":10.25,"y":4.78},{"l":5,"r":4,"x":11.0,"y":4.48},{"l":5,"r":4,"x":10.7,"y":4.1},{"l":5,"r":4,"x":9.96,"y":3.68},{"l":5,"r":4,"x":9.96,"y":2.83},{"l":5,"r":4,"x":9.07,"y":2.36},{"l":5,"r":4,"x":7.01,"y":2.32},{"l":5,"r":4,"x":5.68,"y":2.49},
{"l":6,"r":4,"x":5.54,"y":2.87},{"l":6,"r":4,"x":6.42,"y":4.1},{"l":6,"r":4,"x":7.01,"y":4.49},{"l":6,"r":4,"x":7.75,"y":4.27},{"l":6,"r":4,"x":8.93,"y":3.8},{"l":6,"r":4,"x":9.96,"y":3.08},{"l":6,"r":4,"x":9.07,"y":2.53},{"l":6,"r":4,"x":7.01,"y":2.4},{"l":6,"r":4,"x":5.76,"y":2.57},
{"l":6,"r":5,"x":10.28,"y":4.43},{"l":6,"r":5,"x":10.47,"y":4.49},{"l":6,"r":5,"x":10.55,"y":4.42},{"l":6,"r":5,"x":10.37,"y":4.36},
{"l":7,"r":4,"x":5.76,"y":2.91},{"l":7,"r":4,"x":6.42,"y":3.68},{"l":7,"r":4,"x":7.01,"y":4.06},{"l":7,"r":4,"x":7.75,"y":3.85},{"l":7,"r":4,"x":8.93,"y":3.34},{"l":7,"r":4,"x":9.07,"y":2.61},{"l":7,"r":4,"x":7.01,"y":2.49},{"l":7,"r":4,"x":5.98,"y":2.66},
{"l":8,"r":4,"x":6.1,"y":2.91},{"l":8,"r":4,"x":6.86,"y":3.34},{"l":8,"r":4,"x":7.6,"y":3.25},{"l":8,"r":4,"x":8.41,"y":2.87},{"l":8,"r":4,"x":7.75,"y":2.66},{"l":8,"r":4,"x":6.72,"y":2.61}]
},
"spacing":4,
"vconcat":[{"spacing":9,"vconcat":[
{"hconcat":[
{"width":407,"height":390,"title":{"text":"Agonist - Gi","fontSize":34.6,"fontWeight":"bold","font":"Liberation Sans","color":"#1a1a1a","offset":-14,"dx":2.5},
"encoding":{"x":{"field":"x","type":"quantitative","scale":{"domain":[0,18],"nice":false},"axis":{"title":"G2.67 - K168 Distance (Å)","values":[0,1,2,3,4,5,6,7,8,9,10,11,12,13,14,15,16,17,18],"labelExpr":"datum.value%2==0?datum.label:''","tickSize":{"condition":{"test":"datum.value%2==0","value":8},"value":5}}},"y":{"field":"y","type":"quantitative","scale":{"domain":[3,12],"nice":false},"axis":{"title":"Y3.21 - I167 Distance (Å)","values":[3,4,5,6,7,8,9,10,11,12],"labelExpr":"datum.value%3==0?datum.label:''","tickSize":{"condition":{"test":"datum.value%3==0","value":8},"value":5}}}},
"layer":[
{"data":{"name":"AS"},"encoding":{"order":{"value":null}},"layer":[{"mark":{"type":"line","style":"o6","stroke":"#000"},"encoding":{}},{"mark":{"type":"line","style":"c6","stroke":"#de4128"},"encoding":{}},{"mark":{"type":"line","style":"o5","stroke":"#000"},"encoding":{}},{"mark":{"type":"line","style":"c5","stroke":"#de4128"},"encoding":{}},{"mark":{"type":"line","style":"o4","stroke":"#000"},"encoding":{}},{"mark":{"type":"line","style":"c4","stroke":"#e0532b"},"encoding":{}},{"mark":{"type":"line","style":"o3","stroke":"#000"},"encoding":{}},{"mark":{"type":"line","style":"c3","stroke":"#e8742e"},"encoding":{}},{"mark":{"type":"line","style":"o2","stroke":"#000"},"encoding":{}},{"mark":{"type":"line","style":"c2","stroke":"#f2a733"},"encoding":{}},{"mark":{"type":"line","style":"o1","stroke":"#000"},"encoding":{}},{"mark":{"type":"line","style":"c1","stroke":"#fdd92e"},"encoding":{}},{"mark":{"type":"line","style":"sf","stroke":"#000","fill":"#a5c948"},"encoding":{}}]},
{"data":{"name":"AT"},"encoding":{"order":{"value":null}},"layer":[{"mark":{"type":"line","style":"o9","stroke":"#000"},"encoding":{}},{"mark":{"type":"line","style":"c9","stroke":"#7cbd52"},"encoding":{}},{"mark":{"type":"line","style":"o8","stroke":"#000"},"encoding":{}},{"mark":{"type":"line","style":"c8","stroke":"#7cbd52"},"encoding":{}},{"mark":{"type":"line","style":"o7","stroke":"#000"},"encoding":{}},{"mark":{"type":"line","style":"c7","stroke":"#72b851"},"encoding":{}},{"mark":{"type":"line","style":"tf","stroke":"#000","fill":"#72b851"},"encoding":{}}]},
{"data":{"name":"AI"},"encoding":{"order":{"value":null},"detail":{"field":"r"}},"layer":[{"transform":[{"filter":"datum.l==2"}],"layer":[{"mark":{"type":"line","style":"ua","stroke":"#000"},"encoding":{}},{"mark":{"type":"line","style":"ub","stroke":"#72b851"},"encoding":{}},{"mark":{"type":"line","style":"uc","stroke":"#000"},"encoding":{}},{"mark":{"type":"line","style":"ud","stroke":"#76b865"},"encoding":{}}]},{"mark":{"type":"line","style":"in","stroke":"#000"},"encoding":{"fill":{"field":"l","type":"ordinal","scale":{"domain":[1,2,3,4,5,6,7,8,9],"range":["#76b865","#7dbc8c","#90c9b0","#9ad4ce","#17afdb","#3f6faa","#1a4b8f","#174488","#a5c948"]},"legend":null}}}]},
{"data":{"values":[{"t":"ECL2-S0","x":4.82,"y":6.55},{"t":"ECL2-S1","x":12.96,"y":6.28}]},"mark":{"type":"text","fontSize":27,"fontWeight":"bold","color":"#111"},"encoding":{"text":{"field":"t"}}},
{"data":{"values":[{"s":"7LD3","x":2.5,"y":5.42},{"s":"6D9H","x":4.87,"y":5.65},{"s":"5N2S","x":4.87,"y":5.1},{"s":"5UEN","x":7.08,"y":5.42}]},"mark":{"type":"point","filled":true,"color":"#000","opacity":1},"encoding":{"shape":{"field":"s","type":"nominal","legend":null},"size":{"field":"s","type":"ordinal","scale":{"type":"ordinal","domain":["5N2S","5UEN","6D9H","7LD3"],"range":[784,625,491,400]},"legend":null}}},
{"data":{"values":[{"t":"A","x":-2.43,"y":12.07}]},"mark":{"type":"text","fontSize":30,"color":"#222"},"encoding":{"text":{"field":"t"}}}
]},
{"width":407,"height":390,"title":{"text":"Agonist - Gi - PAM","fontSize":34.6,"fontWeight":"bold","font":"Liberation Sans","color":"#1a1a1a","offset":-14,"dx":4.5},"resolve":{"scale":{"fill":"independent"}},
"encoding":{"x":{"field":"x","type":"quantitative","scale":{"domain":[0,18],"nice":false},"axis":{"title":"G2.67 - K168 Distance (Å)","values":[0,1,2,3,4,5,6,7,8,9,10,11,12,13,14,15,16,17,18],"labelExpr":"datum.value%2==0?datum.label:''","tickSize":{"condition":{"test":"datum.value%2==0","value":8},"value":5}}},"y":{"field":"y","type":"quantitative","scale":{"domain":[3,12],"nice":false},"axis":{"title":"Y3.21 - I167 Distance (Å)","values":[3,4,5,6,7,8,9,10,11,12],"labelExpr":"datum.value%3==0?datum.label:''","tickSize":{"condition":{"test":"datum.value%3==0","value":8},"value":5}}}},
"layer":[
{"data":{"name":"BS"},"encoding":{"order":{"value":null}},"layer":[{"mark":{"type":"line","style":"o6","stroke":"#000"},"encoding":{}},{"mark":{"type":"line","style":"c6","stroke":"#de4128"},"encoding":{}},{"mark":{"type":"line","style":"o5","stroke":"#000"},"encoding":{}},{"mark":{"type":"line","style":"c5","stroke":"#de4128"},"encoding":{}},{"mark":{"type":"line","style":"o4","stroke":"#000"},"encoding":{}},{"mark":{"type":"line","style":"c4","stroke":"#e0532b"},"encoding":{}},{"mark":{"type":"line","style":"o3","stroke":"#000"},"encoding":{}},{"mark":{"type":"line","style":"c3","stroke":"#e8742e"},"encoding":{}},{"mark":{"type":"line","style":"o2","stroke":"#000"},"encoding":{}},{"mark":{"type":"line","style":"c2","stroke":"#f2a733"},"encoding":{}},{"mark":{"type":"line","style":"o1","stroke":"#000"},"encoding":{}},{"mark":{"type":"line","style":"c1","stroke":"#fdd92e"},"encoding":{}},{"mark":{"type":"line","style":"sf","stroke":"#000","fill":"#a5c948"},"encoding":{}}]},
{"data":{"name":"BT"},"encoding":{"order":{"value":null}},"layer":[{"mark":{"type":"line","style":"o9","stroke":"#000"},"encoding":{}},{"mark":{"type":"line","style":"c9","stroke":"#7cbd52"},"encoding":{}},{"mark":{"type":"line","style":"o8","stroke":"#000"},"encoding":{}},{"mark":{"type":"line","style":"c8","stroke":"#7cbd52"},"encoding":{}},{"mark":{"type":"line","style":"o7","stroke":"#000"},"encoding":{}},{"mark":{"type":"line","style":"c7","stroke":"#72b851"},"encoding":{}},{"mark":{"type":"line","style":"tf","stroke":"#000","fill":"#72b851"},"encoding":{}}]},
{"data":{"name":"BI"},"encoding":{"order":{"value":null},"detail":{"field":"r"}},"layer":[{"transform":[{"filter":"datum.l==2"}],"layer":[{"mark":{"type":"line","style":"ua","stroke":"#000"},"encoding":{}},{"mark":{"type":"line","style":"ub","stroke":"#72b851"},"encoding":{}},{"mark":{"type":"line","style":"uc","stroke":"#000"},"encoding":{}},{"mark":{"type":"line","style":"ud","stroke":"#76b865"},"encoding":{}}]},{"mark":{"type":"line","style":"in","stroke":"#000"},"encoding":{"fill":{"field":"l","type":"ordinal","scale":{"domain":[1,2,3,4,5,6,7,8,9],"range":["#76b865","#7dbc8c","#90c9b0","#9ad4ce","#17afdb","#3f6faa","#1a4b8f","#174488","#a5c948"]},"legend":null}}}]},
{"data":{"values":[{"t":"ECL2-S0","x":5.3,"y":7.0}]},"mark":{"type":"text","fontSize":27,"fontWeight":"bold","color":"#111"},"encoding":{"text":{"field":"t"}}},
{"data":{"values":[{"s":"7LD3","x":2.43,"y":5.42},{"s":"6D9H","x":4.82,"y":5.63},{"s":"5N2S","x":4.82,"y":5.1},{"s":"5UEN","x":6.9,"y":5.42},{"s":"5N2S","x":19.34,"y":4.98},{"s":"5UEN","x":19.25,"y":4.22},{"s":"6D9H","x":19.29,"y":3.41},{"s":"7LD3","x":19.34,"y":2.61}]},"mark":{"type":"point","filled":true,"color":"#000","opacity":1},"encoding":{"shape":{"field":"s","type":"nominal","legend":null},"size":{"field":"s","type":"ordinal","scale":{"type":"ordinal","domain":["5N2S","5UEN","6D9H","7LD3"],"range":[784,625,491,400]},"legend":null}}},
{"data":{"values":[{"t":"B","x":-2.43,"y":12.07}]},"mark":{"type":"text","fontSize":30,"color":"#222"},"encoding":{"text":{"field":"t"}}},
{"data":{"values":[{"band":0,"x":18.53,"x2":21.98,"y":12.02,"y2":11.74},{"band":1,"x":18.53,"x2":21.98,"y":11.74,"y2":11.46},{"band":2,"x":18.53,"x2":21.98,"y":11.46,"y2":11.17},{"band":3,"x":18.53,"x2":21.98,"y":11.17,"y2":10.89},{"band":4,"x":18.53,"x2":21.98,"y":10.89,"y2":10.61},{"band":5,"x":18.53,"x2":21.98,"y":10.61,"y2":10.33},{"band":6,"x":18.53,"x2":21.98,"y":10.33,"y2":10.05},{"band":7,"x":18.53,"x2":21.98,"y":10.05,"y2":9.76},{"band":8,"x":18.53,"x2":21.98,"y":9.76,"y2":9.48},{"band":9,"x":18.53,"x2":21.98,"y":9.48,"y2":9.2},{"band":10,"x":18.53,"x2":21.98,"y":9.2,"y2":8.92},{"band":11,"x":18.53,"x2":21.98,"y":8.92,"y2":8.64},{"band":12,"x":18.53,"x2":21.98,"y":8.64,"y2":8.35},{"band":13,"x":18.53,"x2":21.98,"y":8.35,"y2":8.07},{"band":14,"x":18.53,"x2":21.98,"y":8.07,"y2":7.79},{"band":15,"x":18.53,"x2":21.98,"y":7.79,"y2":7.51},{"band":16,"x":18.53,"x2":21.98,"y":7.51,"y2":7.22},{"band":17,"x":18.53,"x2":21.98,"y":7.22,"y2":6.94}]},"mark":{"type":"rect"},"encoding":{"x2":{"field":"x2"},"y2":{"field":"y2"},"fill":{"field":"band","type":"ordinal","scale":{"domain":[0,1,2,3,4,5,6,7,8,9,10,11,12,13,14,15,16,17],"range":["#de4128","#de4128","#e0532b","#e8742e","#f2a733","#fdd92e","#a5c948","#7cbd52","#72b851","#76b865","#7dbc8c","#90c9b0","#9ad4ce","#17afdb","#3f6faa","#1a4b8f","#174488","#174488"]},"legend":null}}},
{"data":{"values":[{"t":"8","x":22.52,"y":11.72},{"t":"7","x":22.52,"y":11.15},{"t":"6","x":22.52,"y":10.58},{"t":"5","x":22.52,"y":10.01},{"t":"4","x":22.52,"y":9.45},{"t":"3","x":22.52,"y":8.88},{"t":"2","x":22.52,"y":8.31},{"t":"1","x":22.52,"y":7.74},{"t":"0","x":22.52,"y":7.18}]},"mark":{"type":"text","fontSize":17,"color":"#222"},"encoding":{"text":{"field":"t"}}},
{"data":{"values":[{"t":"Free energy","x":21.6,"y":6.55},{"t":"(kcal/mol)","x":21.63,"y":5.86}]},"mark":{"type":"text","fontSize":24,"fontWeight":"bold","color":"#1a1a1a"},"encoding":{"text":{"field":"t"}}},
{"data":{"values":[{"t":"5N2S","x":20.22,"y":4.98},{"t":"5UEN","x":20.09,"y":4.22},{"t":"6D9H","x":20.18,"y":3.41},{"t":"7LD3","x":20.22,"y":2.61}]},"mark":{"type":"text","fontSize":25,"fontWeight":"bold","align":"left","color":"#1a1a1a"},"encoding":{"text":{"field":"t"}}}
]}],"spacing":87,"bounds":"flush"},
{"hconcat":[
{"width":407,"height":390,
"encoding":{"x":{"field":"x","type":"quantitative","scale":{"domain":[2,14],"nice":false},"axis":{"title":"P23.50 - K168 Distance (Å)","values":[2,3,4,5,6,7,8,9,10,11,12,13,14],"labelExpr":"datum.value%2==0?datum.label:''","tickSize":{"condition":{"test":"datum.value%2==0","value":8},"value":5}}},"y":{"field":"y","type":"quantitative","scale":{"domain":[2,12],"nice":false},"axis":{"title":"N148 - V152 Distance (Å)","values":[2,3,4,5,6,7,8,9,10,11,12],"labelExpr":"datum.value%2==0?datum.label:''","tickSize":{"condition":{"test":"datum.value%2==0","value":8},"value":5}}}},
"layer":[
{"data":{"name":"CS"},"encoding":{"order":{"value":null}},"layer":[{"mark":{"type":"line","style":"o6","stroke":"#000","clip":true},"encoding":{}},{"mark":{"type":"line","style":"c6","stroke":"#de4128","clip":true},"encoding":{}},{"mark":{"type":"line","style":"o5","stroke":"#000","clip":true},"encoding":{}},{"mark":{"type":"line","style":"c5","stroke":"#de4128","clip":true},"encoding":{}},{"mark":{"type":"line","style":"o4","stroke":"#000","clip":true},"encoding":{}},{"mark":{"type":"line","style":"c4","stroke":"#e0532b","clip":true},"encoding":{}},{"mark":{"type":"line","style":"o3","stroke":"#000","clip":true},"encoding":{}},{"mark":{"type":"line","style":"c3","stroke":"#e8742e","clip":true},"encoding":{}},{"mark":{"type":"line","style":"o2","stroke":"#000","clip":true},"encoding":{}},{"mark":{"type":"line","style":"c2","stroke":"#f2a733","clip":true},"encoding":{}},{"mark":{"type":"line","style":"o1","stroke":"#000","clip":true},"encoding":{}},{"mark":{"type":"line","style":"c1","stroke":"#fdd92e","clip":true},"encoding":{}},{"mark":{"type":"line","style":"sf","stroke":"#000","fill":"#a5c948","clip":true},"encoding":{}}]},
{"data":{"name":"CT"},"encoding":{"order":{"value":null}},"layer":[{"mark":{"type":"line","style":"o9","stroke":"#000","clip":true},"encoding":{}},{"mark":{"type":"line","style":"c9","stroke":"#7cbd52","clip":true},"encoding":{}},{"mark":{"type":"line","style":"o8","stroke":"#000","clip":true},"encoding":{}},{"mark":{"type":"line","style":"c8","stroke":"#7cbd52","clip":true},"encoding":{}},{"mark":{"type":"line","style":"o7","stroke":"#000","clip":true},"encoding":{}},{"mark":{"type":"line","style":"c7","stroke":"#72b851","clip":true},"encoding":{}},{"mark":{"type":"line","style":"tf","stroke":"#000","fill":"#72b851","clip":true},"encoding":{}}]},
{"data":{"name":"CI"},"encoding":{"order":{"value":null},"detail":{"field":"r"}},"layer":[{"transform":[{"filter":"datum.l==2"}],"layer":[{"mark":{"type":"line","style":"ua","stroke":"#000","clip":true},"encoding":{}},{"mark":{"type":"line","style":"ub","stroke":"#72b851","clip":true},"encoding":{}},{"mark":{"type":"line","style":"uc","stroke":"#000","clip":true},"encoding":{}},{"mark":{"type":"line","style":"ud","stroke":"#76b865","clip":true},"encoding":{}}]},{"mark":{"type":"line","style":"in","stroke":"#000","clip":true},"encoding":{"fill":{"field":"l","type":"ordinal","scale":{"domain":[1,2,3,4,5,6,7,8,9],"range":["#76b865","#7dbc8c","#90c9b0","#9ad4ce","#17afdb","#3f6faa","#1a4b8f","#174488","#a5c948"]},"legend":null}}}]},
{"data":{"values":[{"t":"ECL2-S2","x":7.99,"y":7.18},{"t":"ECL2-S0","x":4.95,"y":4.49}]},"mark":{"type":"text","fontSize":27,"fontWeight":"bold","color":"#111"},"encoding":{"text":{"field":"t"}}},
{"data":{"values":[{"s":"7LD3","x":4.68,"y":3.23},{"s":"6D9H","x":5.48,"y":3.0},{"s":"5N2S","x":4.95,"y":3.6},{"s":"5UEN","x":6.42,"y":2.77}]},"mark":{"type":"point","filled":true,"color":"#000","opacity":1},"encoding":{"shape":{"field":"s","type":"nominal","legend":null},"size":{"field":"s","type":"ordinal","scale":{"type":"ordinal","domain":["5N2S","5UEN","6D9H","7LD3"],"range":[784,625,491,400]},"legend":null}}},
{"data":{"values":[{"t":"C","x":0.38,"y":12.08}]},"mark":{"type":"text","fontSize":30,"color":"#222"},"encoding":{"text":{"field":"t"}}}
]},
{"width":407,"height":390,
"encoding":{"x":{"field":"x","type":"quantitative","scale":{"domain":[2,14],"nice":false},"axis":{"title":"P23.50 - K168 Distance (Å)","values":[2,3,4,5,6,7,8,9,10,11,12,13,14],"labelExpr":"datum.value%2==0?datum.label:''","tickSize":{"condition":{"test":"datum.value%2==0","value":8},"value":5}}},"y":{"field":"y","type":"quantitative","scale":{"domain":[2,12],"nice":false},"axis":{"title":"N148 - V152 Distance (Å)","values":[2,3,4,5,6,7,8,9,10,11,12],"labelExpr":"datum.value%2==0?datum.label:''","tickSize":{"condition":{"test":"datum.value%2==0","value":8},"value":5}}}},
"layer":[
{"data":{"name":"DS"},"encoding":{"order":{"value":null}},"layer":[{"mark":{"type":"line","style":"o6","stroke":"#000","clip":true},"encoding":{}},{"mark":{"type":"line","style":"c6","stroke":"#de4128","clip":true},"encoding":{}},{"mark":{"type":"line","style":"o5","stroke":"#000","clip":true},"encoding":{}},{"mark":{"type":"line","style":"c5","stroke":"#de4128","clip":true},"encoding":{}},{"mark":{"type":"line","style":"o4","stroke":"#000","clip":true},"encoding":{}},{"mark":{"type":"line","style":"c4","stroke":"#e0532b","clip":true},"encoding":{}},{"mark":{"type":"line","style":"o3","stroke":"#000","clip":true},"encoding":{}},{"mark":{"type":"line","style":"c3","stroke":"#e8742e","clip":true},"encoding":{}},{"mark":{"type":"line","style":"o2","stroke":"#000","clip":true},"encoding":{}},{"mark":{"type":"line","style":"c2","stroke":"#f2a733","clip":true},"encoding":{}},{"mark":{"type":"line","style":"o1","stroke":"#000","clip":true},"encoding":{}},{"mark":{"type":"line","style":"c1","stroke":"#fdd92e","clip":true},"encoding":{}},{"mark":{"type":"line","style":"sf","stroke":"#000","fill":"#a5c948","clip":true},"encoding":{}}]},
{"data":{"name":"DT"},"encoding":{"order":{"value":null}},"layer":[{"mark":{"type":"line","style":"o9","stroke":"#000","clip":true},"encoding":{}},{"mark":{"type":"line","style":"c9","stroke":"#7cbd52","clip":true},"encoding":{}},{"mark":{"type":"line","style":"o8","stroke":"#000","clip":true},"encoding":{}},{"mark":{"type":"line","style":"c8","stroke":"#7cbd52","clip":true},"encoding":{}},{"mark":{"type":"line","style":"o7","stroke":"#000","clip":true},"encoding":{}},{"mark":{"type":"line","style":"c7","stroke":"#72b851","clip":true},"encoding":{}},{"mark":{"type":"line","style":"tf","stroke":"#000","fill":"#72b851","clip":true},"encoding":{}}]},
{"data":{"name":"DI"},"encoding":{"order":{"value":null},"detail":{"field":"r"}},"layer":[{"transform":[{"filter":"datum.l==2"}],"layer":[{"mark":{"type":"line","style":"ua","stroke":"#000","clip":true},"encoding":{}},{"mark":{"type":"line","style":"ub","stroke":"#72b851","clip":true},"encoding":{}},{"mark":{"type":"line","style":"uc","stroke":"#000","clip":true},"encoding":{}},{"mark":{"type":"line","style":"ud","stroke":"#76b865","clip":true},"encoding":{}}]},{"mark":{"type":"line","style":"in","stroke":"#000","clip":true},"encoding":{"fill":{"field":"l","type":"ordinal","scale":{"domain":[1,2,3,4,5,6,7,8,9],"range":["#76b865","#7dbc8c","#90c9b0","#9ad4ce","#17afdb","#3f6faa","#1a4b8f","#174488","#a5c948"]},"legend":null}}}]},
{"data":{"values":[{"t":"ECL2-S3","x":6.63,"y":8.64},{"t":"ECL2-S0","x":4.68,"y":5.15}]},"mark":{"type":"text","fontSize":27,"fontWeight":"bold","color":"#111"},"encoding":{"text":{"field":"t"}}},
{"data":{"values":[{"s":"7LD3","x":4.68,"y":3.23},{"s":"6D9H","x":5.54,"y":3.03},{"s":"5N2S","x":4.95,"y":3.6},{"s":"5UEN","x":6.37,"y":2.76}]},"mark":{"type":"point","filled":true,"color":"#000","opacity":1},"encoding":{"shape":{"field":"s","type":"nominal","legend":null},"size":{"field":"s","type":"ordinal","scale":{"type":"ordinal","domain":["5N2S","5UEN","6D9H","7LD3"],"range":[784,625,491,400]},"legend":null}}},
{"data":{"values":[{"t":"D","x":0.38,"y":12.08}]},"mark":{"type":"text","fontSize":30,"color":"#222"},"encoding":{"text":{"field":"t"}}}
]}],"spacing":87,"bounds":"flush"}
]},
{"hconcat":[
{"width":407,"height":392,
"encoding":{"x":{"field":"x","type":"quantitative","scale":{"domain":[3,21],"nice":false},"axis":{"title":"W146 - E5.36 Distance (Å)","values":[3,4,5,6,7,8,9,10,11,12,13,14,15,16,17,18,19,20,21],"labelExpr":"datum.value%3==0?datum.label:''","tickSize":{"condition":{"test":"datum.value%3==0","value":8},"value":5}}},"y":{"field":"y","type":"quantitative","scale":{"domain":[2,12],"nice":false},"axis":{"title":"N148 - V152 Distance (Å)","values":[2,3,4,5,6,7,8,9,10,11,12],"labelExpr":"datum.value%2==0?datum.label:''","tickSize":{"condition":{"test":"datum.value%2==0","value":8},"value":5}}}},
"layer":[
{"data":{"name":"ES"},"encoding":{"order":{"value":null}},"layer":[{"mark":{"type":"line","style":"o6","stroke":"#000","clip":true},"encoding":{}},{"mark":{"type":"line","style":"c6","stroke":"#de4128","clip":true},"encoding":{}},{"mark":{"type":"line","style":"o5","stroke":"#000","clip":true},"encoding":{}},{"mark":{"type":"line","style":"c5","stroke":"#de4128","clip":true},"encoding":{}},{"mark":{"type":"line","style":"o4","stroke":"#000","clip":true},"encoding":{}},{"mark":{"type":"line","style":"c4","stroke":"#e0532b","clip":true},"encoding":{}},{"mark":{"type":"line","style":"o3","stroke":"#000","clip":true},"encoding":{}},{"mark":{"type":"line","style":"c3","stroke":"#e8742e","clip":true},"encoding":{}},{"mark":{"type":"line","style":"o2","stroke":"#000","clip":true},"encoding":{}},{"mark":{"type":"line","style":"c2","stroke":"#f2a733","clip":true},"encoding":{}},{"mark":{"type":"line","style":"o1","stroke":"#000","clip":true},"encoding":{}},{"mark":{"type":"line","style":"c1","stroke":"#fdd92e","clip":true},"encoding":{}},{"mark":{"type":"line","style":"sf","stroke":"#000","fill":"#a5c948","clip":true},"encoding":{}}]},
{"data":{"name":"ET"},"encoding":{"order":{"value":null}},"layer":[{"mark":{"type":"line","style":"o9","stroke":"#000","clip":true},"encoding":{}},{"mark":{"type":"line","style":"c9","stroke":"#7cbd52","clip":true},"encoding":{}},{"mark":{"type":"line","style":"o8","stroke":"#000","clip":true},"encoding":{}},{"mark":{"type":"line","style":"c8","stroke":"#7cbd52","clip":true},"encoding":{}},{"mark":{"type":"line","style":"o7","stroke":"#000","clip":true},"encoding":{}},{"mark":{"type":"line","style":"c7","stroke":"#72b851","clip":true},"encoding":{}},{"mark":{"type":"line","style":"tf","stroke":"#000","fill":"#72b851","clip":true},"encoding":{}}]},
{"data":{"name":"EI"},"encoding":{"order":{"value":null},"detail":{"field":"r"}},"layer":[{"transform":[{"filter":"datum.l==2"}],"layer":[{"mark":{"type":"line","style":"ua","stroke":"#000","clip":true},"encoding":{}},{"mark":{"type":"line","style":"ub","stroke":"#72b851","clip":true},"encoding":{}},{"mark":{"type":"line","style":"uc","stroke":"#000","clip":true},"encoding":{}},{"mark":{"type":"line","style":"ud","stroke":"#76b865","clip":true},"encoding":{}}]},{"mark":{"type":"line","style":"in","stroke":"#000","clip":true},"encoding":{"fill":{"field":"l","type":"ordinal","scale":{"domain":[1,2,3,4,5,6,7,8,9],"range":["#76b865","#7dbc8c","#90c9b0","#9ad4ce","#17afdb","#3f6faa","#1a4b8f","#174488","#a5c948"]},"legend":null}}}]},
{"data":{"values":[{"t":"ECL2-S0","x":8.18,"y":4.73},{"t":"ECL2-S4","x":14.6,"y":4.07}]},"mark":{"type":"text","fontSize":27,"fontWeight":"bold","color":"#111"},"encoding":{"text":{"field":"t"}}},
{"data":{"values":[{"s":"7LD3","x":8.88,"y":3.2},{"s":"6D9H","x":9.64,"y":2.97},{"s":"5N2S","x":9.6,"y":3.48},{"s":"5UEN","x":9.64,"y":2.76}]},"mark":{"type":"point","filled":true,"color":"#000","opacity":1},"encoding":{"shape":{"field":"s","type":"nominal","legend":null},"size":{"field":"s","type":"ordinal","scale":{"type":"ordinal","domain":["5N2S","5UEN","6D9H","7LD3"],"range":[784,625,491,400]},"legend":null}}},
{"data":{"values":[{"t":"E","x":0.52,"y":12.08}]},"mark":{"type":"text","fontSize":30,"color":"#222"},"encoding":{"text":{"field":"t"}}}
]},
{"width":407,"height":392,
"encoding":{"x":{"field":"x","type":"quantitative","scale":{"domain":[3,21],"nice":false},"axis":{"title":"W146 - E5.36 Distance (Å)","values":[3,4,5,6,7,8,9,10,11,12,13,14,15,16,17,18,19,20,21],"labelExpr":"datum.value%3==0?datum.label:''","tickSize":{"condition":{"test":"datum.value%3==0","value":8},"value":5}}},"y":{"field":"y","type":"quantitative","scale":{"domain":[2,12],"nice":false},"axis":{"title":"N148 - V152 Distance (Å)","values":[2,3,4,5,6,7,8,9,10,11,12],"labelExpr":"datum.value%2==0?datum.label:''","tickSize":{"condition":{"test":"datum.value%2==0","value":8},"value":5}}}},
"layer":[
{"data":{"name":"FS"},"encoding":{"order":{"value":null}},"layer":[{"mark":{"type":"line","style":"o6","stroke":"#000","clip":true},"encoding":{}},{"mark":{"type":"line","style":"c6","stroke":"#de4128","clip":true},"encoding":{}},{"mark":{"type":"line","style":"o5","stroke":"#000","clip":true},"encoding":{}},{"mark":{"type":"line","style":"c5","stroke":"#de4128","clip":true},"encoding":{}},{"mark":{"type":"line","style":"o4","stroke":"#000","clip":true},"encoding":{}},{"mark":{"type":"line","style":"c4","stroke":"#e0532b","clip":true},"encoding":{}},{"mark":{"type":"line","style":"o3","stroke":"#000","clip":true},"encoding":{}},{"mark":{"type":"line","style":"c3","stroke":"#e8742e","clip":true},"encoding":{}},{"mark":{"type":"line","style":"o2","stroke":"#000","clip":true},"encoding":{}},{"mark":{"type":"line","style":"c2","stroke":"#f2a733","clip":true},"encoding":{}},{"mark":{"type":"line","style":"o1","stroke":"#000","clip":true},"encoding":{}},{"mark":{"type":"line","style":"c1","stroke":"#fdd92e","clip":true},"encoding":{}},{"mark":{"type":"line","style":"sf","stroke":"#000","fill":"#a5c948","clip":true},"encoding":{}}]},
{"data":{"name":"FT"},"encoding":{"order":{"value":null}},"layer":[{"mark":{"type":"line","style":"o9","stroke":"#000","clip":true},"encoding":{}},{"mark":{"type":"line","style":"c9","stroke":"#7cbd52","clip":true},"encoding":{}},{"mark":{"type":"line","style":"o8","stroke":"#000","clip":true},"encoding":{}},{"mark":{"type":"line","style":"c8","stroke":"#7cbd52","clip":true},"encoding":{}},{"mark":{"type":"line","style":"o7","stroke":"#000","clip":true},"encoding":{}},{"mark":{"type":"line","style":"c7","stroke":"#72b851","clip":true},"encoding":{}},{"mark":{"type":"line","style":"tf","stroke":"#000","fill":"#72b851","clip":true},"encoding":{}}]},
{"data":{"name":"FI"},"encoding":{"order":{"value":null},"detail":{"field":"r"}},"layer":[{"transform":[{"filter":"datum.l==2"}],"layer":[{"mark":{"type":"line","style":"ua","stroke":"#000","clip":true},"encoding":{}},{"mark":{"type":"line","style":"ub","stroke":"#72b851","clip":true},"encoding":{}},{"mark":{"type":"line","style":"uc","stroke":"#000","clip":true},"encoding":{}},{"mark":{"type":"line","style":"ud","stroke":"#76b865","clip":true},"encoding":{}}]},{"mark":{"type":"line","style":"in","stroke":"#000","clip":true},"encoding":{"fill":{"field":"l","type":"ordinal","scale":{"domain":[1,2,3,4,5,6,7,8,9],"range":["#76b865","#7dbc8c","#90c9b0","#9ad4ce","#17afdb","#3f6faa","#1a4b8f","#174488","#a5c948"]},"legend":null}}}]},
{"data":{"values":[{"t":"ECL2-S3","x":9.5,"y":9.83},{"t":"ECL2-S5","x":17.6,"y":9.83},{"t":"ECL2-S0","x":7.87,"y":4.96}]},"mark":{"type":"text","fontSize":27,"fontWeight":"bold","color":"#111"},"encoding":{"text":{"field":"t"}}},
{"data":{"values":[{"s":"7LD3","x":9.02,"y":3.2},{"s":"6D9H","x":9.55,"y":2.97},{"s":"5N2S","x":9.5,"y":3.48},{"s":"5UEN","x":9.55,"y":2.8}]},"mark":{"type":"point","filled":true,"color":"#000","opacity":1},"encoding":{"shape":{"field":"s","type":"nominal","legend":null},"size":{"field":"s","type":"ordinal","scale":{"type":"ordinal","domain":["5N2S","5UEN","6D9H","7LD3"],"range":[784,625,491,400]},"legend":null}}},
{"data":{"values":[{"t":"F","x":0.52,"y":12.08}]},"mark":{"type":"text","fontSize":30,"color":"#222"},"encoding":{"text":{"field":"t"}}}
]}],"spacing":87,"bounds":"flush"}
]}
